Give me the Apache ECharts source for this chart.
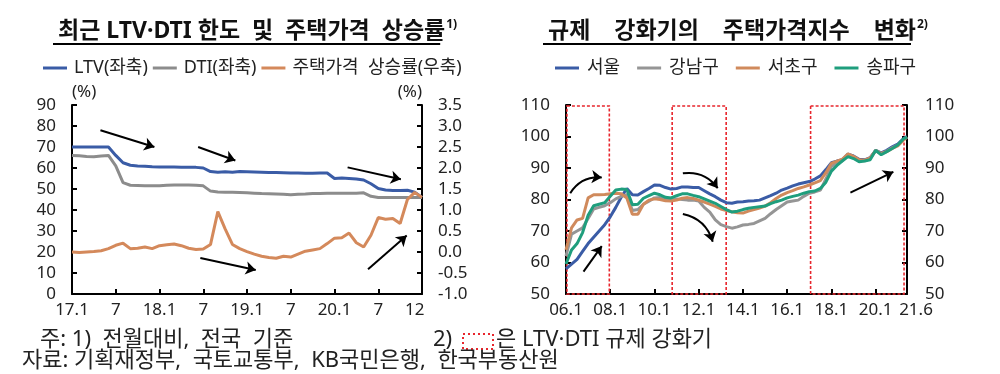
<!DOCTYPE html>
<html><head><meta charset="utf-8">
<script src="https://cdn.jsdelivr.net/npm/echarts@6/dist/echarts.min.js"></script>
<style>html,body{margin:0;padding:0;background:#fff}#c{width:1000px;height:374px}</style>
</head><body><div id="c"></div>
<script>
const FONT = "'Noto Sans', 'Noto Sans CJK KR', sans-serif";

// ---------- Left chart data (monthly, 17.1 ~ 21.1) ----------
const monthsL = ['17.1','17.2','17.3','17.4','17.5','17.6','17.7','17.8','17.9','17.10','17.11','17.12',
  '18.1','18.2','18.3','18.4','18.5','18.6','18.7','18.8','18.9','18.10','18.11','18.12',
  '19.1','19.2','19.3','19.4','19.5','19.6','19.7','19.8','19.9','19.10','19.11','19.12',
  '20.1','20.2','20.3','20.4','20.5','20.6','20.7','20.8','20.9','20.10','20.11','20.12','21.1'];
const ltv = [70,70,70,70,70,70,66,62.5,61.3,61,60.8,60.6,60.5,60.5,60.5,60.4,60.4,60.3,60,58.3,58,58.2,58,58.3,
  58.2,58.1,58,57.9,57.8,57.7,57.6,57.6,57.5,57.5,57.6,57.6,55,55.2,55,54.8,54.3,52.5,50.2,49.5,49.3,49.3,49.4,48.5,46];
const dti = [66,65.8,65.5,65.4,65.7,66,61,53,51.8,51.7,51.6,51.5,51.5,51.8,51.9,51.9,51.9,51.8,51.5,49,48.6,48.5,48.4,48.3,
  48.2,48,47.8,47.7,47.6,47.5,47.3,47.5,47.6,47.8,47.9,48,48,48,48,48,48.2,46.5,46,46,46,46,46,46,46];
const hpRate = [0,-0.01,0,0.01,0.03,0.08,0.16,0.21,0.08,0.09,0.12,0.08,0.15,0.17,0.19,0.15,0.09,0.06,0.07,0.18,0.96,0.55,0.18,0.08,
  0.01,-0.05,-0.1,-0.13,-0.15,-0.1,-0.12,-0.05,0.02,0.05,0.08,0.2,0.33,0.34,0.45,0.22,0.12,0.4,0.82,0.78,0.8,0.68,1.25,1.42,1.3];
const tickLabelIdxL = [0,6,12,18,24,30,36,42,47];
const tickLabelTxtL = ['17.1','7','18.1','7','19.1','7','20.1','7','12'];
// annotation arrows (month index, left-axis value)
const arrowsL = [[[3.9,78],[11.3,70]],[[17.3,70],[22.4,63.6]],[[17.6,17.1],[25.2,11.4]],[[37.8,60.3],[45.1,54.6]],[[40.6,11.8],[45.9,27.8]]];

// ---------- Right chart data (quarterly samples, 06.1 ~ 21.6) ----------
const periodsR = ['06.01','06.04','06.07','06.10','07.01','07.04','07.07','07.10','08.01','08.04','08.07','08.10',
  '09.01','09.04','09.07','09.10','10.01','10.04','10.07','10.10','11.01','11.04','11.07','11.10',
  '12.01','12.04','12.07','12.10','13.01','13.04','13.07','13.10','14.01','14.04','14.07','14.10',
  '15.01','15.04','15.07','15.10','16.01','16.04','16.07','16.10','17.01','17.04','17.07','17.10',
  '18.01','18.04','18.07','18.10','19.01','19.04','19.07','19.10','20.01','20.04','20.07','20.10',
  '21.01','21.04','21.06'];
const seoul = [58,59.5,61,63.5,66,68,70,72,74.5,77.5,80.8,83.5,81.5,81.4,82.5,83.5,84.6,84.5,83.8,83.3,83.5,84,84,83.8,
  83.8,82.8,81.8,80.9,79.8,79,78.8,79.2,79.3,79.5,79.6,79.8,80.5,81.2,82,83,83.6,84.3,84.9,85.3,85.7,86.5,87.5,89.5,
  91.7,92.2,92.6,94.4,93.8,92.8,92.6,93.3,95.6,94.8,95.6,96.7,97.6,99.3,100];
const gangnam = [62,69,70,71,74,77,77.5,78,79,80.2,81,81.5,76.5,76.8,78.5,79.5,80.5,80.6,80.3,80.4,80.2,80,79.8,79.8,
  79.5,77.5,76,73.5,72,71.4,70.9,71.3,71.9,72.1,72.4,73.2,74,75.5,76.8,78,79.2,79.5,79.8,81,82,82.4,83,86.5,
  90.5,91.5,92.3,94,93.2,92.3,92.3,93,95.5,94.5,95.3,96.4,97.3,99,99.8];
const seocho = [64,71,73.5,74,80.5,81.5,81.5,81.6,81.8,82,81.8,80.5,75.3,75.3,78.5,79.8,80.2,80,79.6,79.5,79.8,80.4,80.6,80.3,
  79.8,79.2,78.5,77.8,77,76.5,76.1,75.8,75.7,76.3,76.8,77.3,77.9,79,80.3,81.4,82.2,82.8,83.5,84,84.6,85.3,86,88.5,
  91.5,92.2,92.8,94.5,93.7,92.6,92.5,93.2,95.5,94.6,95.2,96.2,97,98.8,99.8];
const songpa = [59.5,64,66,69.5,75,78,78.5,79,81,83,83.3,83.2,78.3,78.5,80.4,81.2,82,81.5,80.7,80.5,81.2,81.8,81.8,81.3,
  80.9,80.2,79.5,78.8,77.8,76.8,76,76.3,76.8,77.2,77.5,77.7,77.9,78.7,79.3,79.8,80.5,81,81.4,82,82.5,82.7,83.5,85.5,
  89,90.8,92.3,93.6,93,92,92.2,92.6,95.6,94.2,95.2,96.2,97.3,99.2,99.8];
const tickLabelPeriodsR = ['06.01','08.01','10.01','12.01','14.01','16.01','18.01','20.01','21.06'];
const tickLabelTxtR = ['06.1','08.1','10.1','12.1','14.1','16.1','18.1','20.1','21.6'];
// LTV·DTI tightening periods (month index from 06.1)
const tightening = [[0.5,23.5],[57.6,86.9],[132.7,183.4]];
// annotation arrows (month index, index value, curveness)
const arrowsR = [[[2.3,82],[19.4,87],0.3],[[9.5,57.1],[19.4,65.2],0],[[63.4,88.3],[82.3,83.6],0.3],[[63.4,75.4],[79.6,66.6],0.3],[[154.3,82.2],[177.6,88.8],0]];

// ---------- text ----------
const titleL = '최근 LTV·DTI 한도  및  주택가격  상승률';
const titleR = '규제    강화기의    주택가격지수    변화';
const note1 = '주: 1)  전월대비,  전국  기준';
const note2 = '은 LTV·DTI 규제 강화기';
const source = '자료: 기획재정부,  국토교통부,  KB국민은행,  한국부동산원';

// ---------- helpers ----------
const mIdx = p => { const [y, m] = p.split('.').map(Number); return (y - 6) * 12 + (m - 1); };
const pairsL = arr => arr.map((v, i) => [i, v]);
const pairsR = arr => arr.map((v, i) => [mIdx(periodsR[i]), v]);
const tickIdxR = tickLabelPeriodsR.map(mIdx);
const ctx = document.createElement('canvas').getContext('2d');
const textW = (t, f) => { ctx.font = f; return ctx.measureText(t).width; };
const TF = 'bold 23px ' + FONT;
const wL = textW(titleL, TF), wR = textW(titleR, TF);

const C = {ltv:'#3a5ca6', dti:'#8c8c8c', hp:'#d4895b', seoul:'#3a5ca6', gangnam:'#959595', seocho:'#d08a5c', songpa:'#1f9e7d'};
const axisLine = {show:true, lineStyle:{color:'#000', width:2}};
const lab = {color:'#222', fontSize:17, fontFamily:FONT};
const tick = {show:true, inside:true, length:5, lineStyle:{color:'#000', width:2}};
const arrowSeries = (xi, yi, list) => ({type:'lines', coordinateSystem:'cartesian2d', xAxisIndex:xi, yAxisIndex:yi, silent:true, z:10,
  symbol:['none','arrow'], symbolSize:10, lineStyle:{color:'#000', width:2, opacity:1},
  data:list.map(a => ({coords:[a[0], a[1]], lineStyle:{curveness:a[2] || 0}}))});
const titleRich = {t:{fontSize:23, fontWeight:'bold', color:'#111', fontFamily:FONT},
  s:{fontSize:12, color:'#111', verticalAlign:'top', padding:[0,0,12,1], fontFamily:FONT}};

const chart = echarts.init(document.getElementById('c'), null, {renderer:'canvas'});
chart.setOption({
  animation:false,
  textStyle:{fontFamily:FONT},
  title:[
    {text:'{t|' + titleL + '}{s|1)}', left:53, top:14, textStyle:{rich:titleRich}},
    {text:'{t|' + titleR + '}{s|2)}', left:543, top:14, textStyle:{rich:titleRich}}
  ],
  legend:[
    {left:38, top:54, itemWidth:24, itemHeight:3, itemGap:5, icon:'rect', data:['LTV(좌축)','DTI(좌축)','주택가격  상승률(우축)'],
     textStyle:{fontSize:18, color:'#222', fontFamily:FONT, padding:[0,0,0,2]}},
    {left:550, top:54, itemWidth:24, itemHeight:3, itemGap:17, icon:'rect', data:['서울','강남구','서초구','송파구'],
     textStyle:{fontSize:18, color:'#222', fontFamily:FONT, padding:[0,0,0,3]}}
  ],
  grid:[
    {left:72, right:578, top:105, bottom:80},
    {left:566, right:93, top:105, bottom:80}
  ],
  xAxis:[
    {type:'value', gridIndex:0, min:0, max:48, axisLine, splitLine:{show:false},
     axisTick:{...tick, customValues:[6,12,18,24,30,36,42]},
     axisLabel:{...lab, margin:8, customValues:tickLabelIdxL, formatter:v => tickLabelTxtL[tickLabelIdxL.indexOf(v)] ?? ''}},
    {type:'value', gridIndex:1, min:0, max:185, axisLine, splitLine:{show:false},
     axisTick:{...tick, customValues:tickIdxR.slice(1,8)},
     axisLabel:{...lab, margin:8, customValues:tickIdxR,
       formatter:v => { const k = tickIdxR.indexOf(v); return k === tickIdxR.length-1 ? '{e|'+tickLabelTxtR[k]+'}' : (tickLabelTxtR[k] ?? ''); },
       rich:{e:{fontSize:17, color:'#222', fontFamily:FONT, padding:[0,0,0,18]}}}}
  ],
  yAxis:[
    {type:'value', gridIndex:0, min:0, max:90, interval:10, axisLine, splitLine:{show:false}, axisTick:tick,
     axisLabel:{...lab, margin:16},
     name:'(%)', nameLocation:'end', nameGap:4, nameTextStyle:{...lab, align:'left'}},
    {type:'value', gridIndex:0, position:'right', min:-1, max:3.5, interval:0.5, axisLine, splitLine:{show:false}, axisTick:tick,
     axisLabel:{...lab, margin:16, formatter:v => v.toFixed(1)},
     name:'(%)', nameLocation:'end', nameGap:4, nameTextStyle:{...lab, align:'right'}},
    {type:'value', gridIndex:1, min:50, max:110, interval:10, axisLine, splitLine:{show:false}, axisTick:tick,
     axisLabel:{...lab, margin:16}},
    {type:'value', gridIndex:1, position:'right', min:50, max:110, interval:10, axisLine, splitLine:{show:false}, axisTick:tick,
     axisLabel:{...lab, margin:18}}
  ],
  series:[
    {name:'LTV(좌축)', type:'line', xAxisIndex:0, yAxisIndex:0, data:pairsL(ltv), showSymbol:false, lineStyle:{width:3, color:C.ltv}, itemStyle:{color:C.ltv}, z:4},
    {name:'DTI(좌축)', type:'line', xAxisIndex:0, yAxisIndex:0, data:pairsL(dti), showSymbol:false, lineStyle:{width:3, color:C.dti}, itemStyle:{color:C.dti}, z:3},
    {name:'주택가격  상승률(우축)', type:'line', xAxisIndex:0, yAxisIndex:1, data:pairsL(hpRate), showSymbol:false, lineStyle:{width:3, color:C.hp}, itemStyle:{color:C.hp}, z:5},
    {name:'강남구', type:'line', xAxisIndex:1, yAxisIndex:2, data:pairsR(gangnam), showSymbol:false, lineStyle:{width:3, color:C.gangnam}, itemStyle:{color:C.gangnam}, z:2,
     markArea:{silent:true, itemStyle:{color:'rgba(0,0,0,0)', borderColor:'#e8262d', borderWidth:1.6, borderType:[3,2]},
       data:tightening.map(t => [{xAxis:t[0], yAxis:109.7},{xAxis:t[1], yAxis:50}])}},
    {name:'서초구', type:'line', xAxisIndex:1, yAxisIndex:2, data:pairsR(seocho), showSymbol:false, lineStyle:{width:3, color:C.seocho}, itemStyle:{color:C.seocho}, z:3},
    {name:'송파구', type:'line', xAxisIndex:1, yAxisIndex:2, data:pairsR(songpa), showSymbol:false, lineStyle:{width:3, color:C.songpa}, itemStyle:{color:C.songpa}, z:4},
    {name:'서울', type:'line', xAxisIndex:1, yAxisIndex:2, data:pairsR(seoul), showSymbol:false, lineStyle:{width:3, color:C.seoul}, itemStyle:{color:C.seoul}, z:1},
    arrowSeries(0, 0, arrowsL),
    arrowSeries(1, 2, arrowsR)
  ],
  graphic:[
    {type:'line', shape:{x1:53, y1:44, x2:53 + wL, y2:44}, style:{stroke:'#000', lineWidth:2}},
    {type:'line', shape:{x1:543, y1:44, x2:543 + wR, y2:44}, style:{stroke:'#000', lineWidth:2}},
    {type:'text', left:40, top:329, style:{text:note1, fontSize:22, fill:'#222', fontFamily:FONT}},
    {type:'text', left:433, top:329, style:{text:'2)', fontSize:22, fill:'#222', fontFamily:FONT}},
    {type:'rect', shape:{x:463, y:334, width:30, height:15}, style:{fill:'none', stroke:'#e8262d', lineWidth:2, lineDash:[2,3]}},
    {type:'text', left:496, top:329, style:{text:note2, fontSize:22, fill:'#222', fontFamily:FONT}},
    {type:'text', left:22, top:350, style:{text:source, fontSize:22, fill:'#222', fontFamily:FONT}}
  ]
});
</script></body></html>
